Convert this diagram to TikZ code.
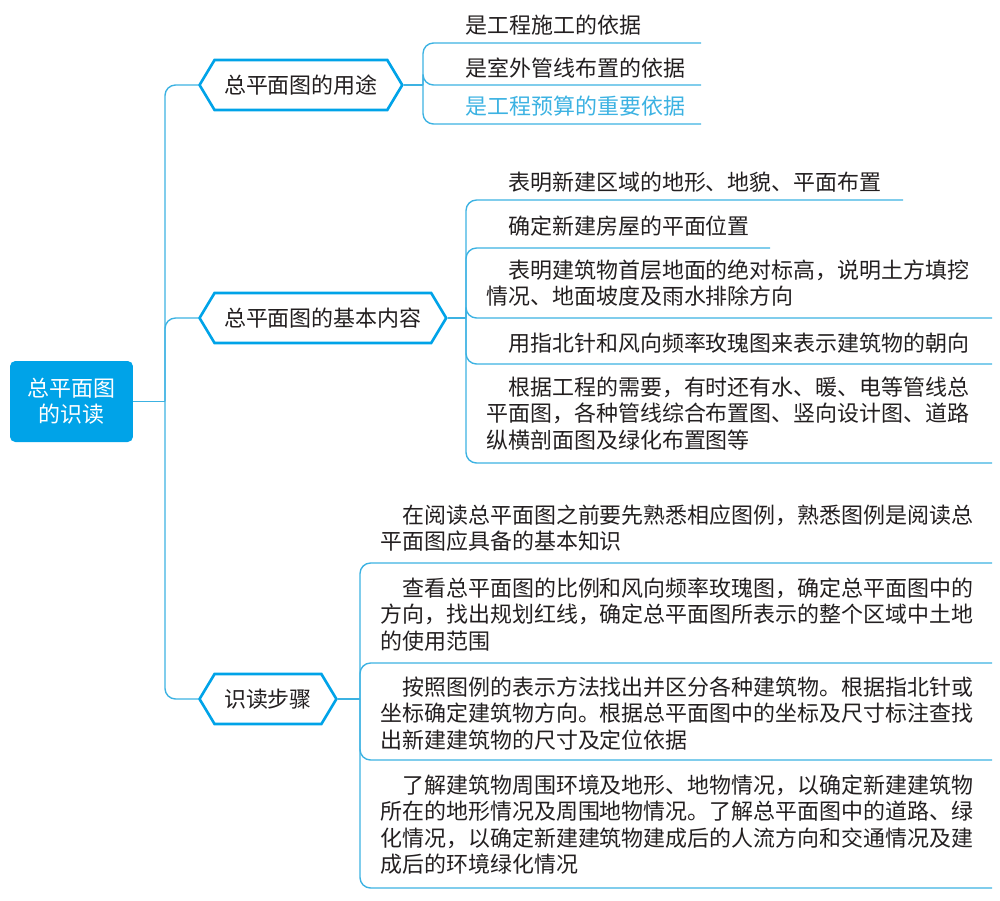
\documentclass[tikz,border=0pt]{standalone}
\usepackage{fontspec}
\newfontfamily\cjkfont{Noto Sans CJK SC}
\usetikzlibrary{shapes.symbols}
\definecolor{mapblue}{RGB}{0,163,232}
\definecolor{linkblue}{RGB}{60,178,226}
\definecolor{inkgray}{RGB}{35,31,32}
\newcommand\leaffont{\cjkfont\fontsize{12.5}{15.1}\selectfont}
\tikzset{
  root/.style={rectangle, rounded corners=3pt, fill=mapblue, text=white,
    font=\cjkfont\fontsize{12.5}{14.7}\selectfont, align=center,
    minimum width=2.46cm, minimum height=1.62cm, inner sep=0pt},
  branch/.style={signal, signal to=east and west, signal pointer angle=118,
    draw=mapblue, line width=1.5pt, fill=white, text=inkgray, font=\leaffont,
    minimum height=1cm, inner xsep=5.4pt, inner ysep=0pt, anchor=west},
  leaf/.style={font=\leaffont, text=inkgray, inner sep=0pt, anchor=base west, align=left},
  link/.style={draw=linkblue, line width=0.8pt, rounded corners=6pt},
}
\begin{document}
\begin{tikzpicture}[x=0.02cm, y=-0.02cm]
  \useasboundingbox (0,0) rectangle (1000,900);

  % root and main branches
  \node[root] (root) at (71.5,401.5) {总平面图\\的识读};
  \node[branch] (b1) at (198,85) {总平面图的用途};
  \node[branch] (b2) at (198,318) {总平面图的基本内容};
  \node[branch] (b3) at (198,699) {识读步骤};
  \coordinate (jr) at (165,401.5);
  \draw[link] (root.east) -- (jr);
  \draw[link] (jr) |- (b1.west);
  \draw[link] (jr) |- (b2.west);
  \draw[link] (jr) |- (b3.west);

  % uses
  \coordinate (j1) at (423,85);
  \coordinate (e11) at (701,43);
  \coordinate (e12) at (701,85);
  \coordinate (e13) at (701,124);
  \draw[link] (b1.east) -- (j1);
  \draw[link] (j1) |- (e11);
  \draw[link] (j1) |- (e12);
  \draw[link] (j1) |- (e13);
  \node[leaf] (u11) at (465,33) {是工程施工的依据};
  \node[leaf] (u12) at (465,76) {是室外管线布置的依据};
  \node[leaf, text=linkblue] (u13) at (465,114) {是工程预算的重要依据};

  % basic content
  \coordinate (j2) at (466,318);
  \coordinate (e21) at (903,200);
  \coordinate (e22) at (770,248);
  \coordinate (e23) at (992,318);
  \coordinate (e24) at (992,364);
  \coordinate (e25) at (992,463);
  \draw[link] (b2.east) -- (j2);
  \draw[link] (j2) |- (e21);
  \draw[link] (j2) |- (e22);
  \draw[link] (j2) |- (e23);
  \draw[link] (j2) |- (e24);
  \draw[link] (j2) |- (e25);
  \node[leaf] (u21) at (486,190) {\hspace*{1em}表明新建区域的地形、地貌、平面布置};
  \node[leaf] (u22) at (486,234) {\hspace*{1em}确定新建房屋的平面位置};
  \node[leaf, text width=22.3em] (u23) at (486,278)
    {\hspace*{1em}表明建筑物首层地面的绝对标高，说明土方填挖\\情况、地面坡度及雨水排除方向};
  \node[leaf] (u24) at (486,351) {\hspace*{1em}用指北针和风向频率玫瑰图来表示建筑物的朝向};
  \node[leaf, text width=22.3em] (u25) at (486,395)
    {\hspace*{1em}根据工程的需要，有时还有水、暖、电等管线总\\平面图，各种管线综合布置图、竖向设计图、道路\\纵横剖面图及绿化布置图等};

  % reading steps
  \coordinate (j3) at (360,699);
  \coordinate (e31) at (992,563);
  \coordinate (e32) at (992,663);
  \coordinate (e33) at (992,760);
  \coordinate (e34) at (992,888);
  \draw[link] (b3.east) -- (j3);
  \draw[link] (j3) |- (e31);
  \draw[link] (j3) |- (e32);
  \draw[link] (j3) |- (e33);
  \draw[link] (j3) |- (e34);
  \node[leaf, text width=27.3em] (u31) at (380,523)
    {\hspace*{1em}在阅读总平面图之前要先熟悉相应图例，熟悉图例是阅读总\\平面图应具备的基本知识};
  \node[leaf, text width=27.3em] (u32) at (380,596)
    {\hspace*{1em}查看总平面图的比例和风向频率玫瑰图，确定总平面图中的\\方向，找出规划红线，确定总平面图所表示的整个区域中土地\\的使用范围};
  \node[leaf, text width=27.3em] (u33) at (380,695)
    {\hspace*{1em}按照图例的表示方法找出并区分各种建筑物。根据指北针或\\坐标确定建筑物方向。根据总平面图中的坐标及尺寸标注查找\\出新建建筑物的尺寸及定位依据};
  \node[leaf, text width=27.3em] (u34) at (380,793)
    {\hspace*{1em}了解建筑物周围环境及地形、地物情况，以确定新建建筑物\\所在的地形情况及周围地物情况。了解总平面图中的道路、绿\\化情况，以确定新建建筑物建成后的人流方向和交通情况及建\\成后的环境绿化情况};
\end{tikzpicture}
\end{document}
